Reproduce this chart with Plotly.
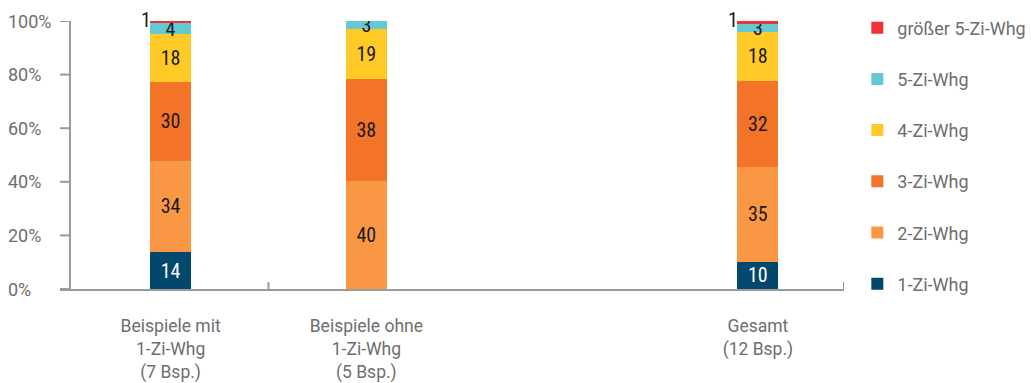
import plotly.graph_objects as go

categories = ["Beispiele mit<br>1-Zi-Whg<br>(7 Bsp.)", "Beispiele ohne<br>1-Zi-Whg<br>(5 Bsp.)", "Gesamt<br>(12 Bsp.)"]
cat_pos = [0, 1, 3]

series_names = ["1-Zi-Whg", "2-Zi-Whg", "3-Zi-Whg", "4-Zi-Whg", "5-Zi-Whg", "größer 5-Zi-Whg"]
zi1 = [13.8, 0.0, 10.1]
zi2 = [34.0, 40.3, 35.4]
zi3 = [29.6, 37.9, 32.3]
zi4 = [17.8, 18.9, 18.0]
zi5 = [3.9, 2.9, 3.2]
zi6 = [0.9, 0.0, 1.0]
series_values = [zi1, zi2, zi3, zi4, zi5, zi6]
colors = ["#02476C", "#F99744", "#F37329", "#FFC926", "#63C9D2", "#EE3338"]
text_colors = ["#ffffff", "#1a1a1a", "#1a1a1a", "#1a1a1a", "#1a1a1a", "#1a1a1a"]

y_ticks = [0, 20, 40, 60, 80, 100]
y_ticklabels = ["0%", "20%", "40%", "60%", "80%", "100%"]

NARROW = "Liberation Sans Narrow, Arial Narrow, Roboto Condensed, sans-serif"
FONT = "Roboto, Liberation Sans, sans-serif"
GRAY = "#6e6e6e"
AXIS = "#9b9b9b"

W, H = 1031, 383
ML, MR, MT, MB = 60, 187, 21, 94
plot_w = W - ML - MR
x_range = [-0.565, 3.44]

fig = go.Figure()
n = len(series_names)
for i, (name, vals) in enumerate(zip(series_names, series_values)):
    is_top = (i == n - 1)
    txt = ["" if (v == 0 or is_top) else f"{v:.0f}" for v in vals]
    fig.add_trace(go.Bar(
        x=cat_pos, y=vals, name=name, marker=dict(color=colors[i], line=dict(width=0)),
        width=0.21, text=txt, textposition="inside", insidetextanchor="middle",
        textangle=0, constraintext="none",
        textfont=dict(family=NARROW, size=20, color=text_colors[i]),
        legendgroup=name, legendrank=n - i, hoverinfo="skip",
    ))

# labels of the top (red) segment, placed left of the bar top
for j, xp in enumerate(cat_pos):
    v = zi6[j]
    if v > 0:
        total = sum(s[j] for s in series_values)
        fig.add_annotation(x=xp, y=total, text=f"{v:.0f}", showarrow=False,
                           xanchor="right", yanchor="middle", xshift=-18, yshift=1,
                           font=dict(family=NARROW, size=20, color="#1a1a1a"))

# y axis line + ticks + labels
px_to_paper = lambda px: (px - ML) / plot_w
yx = px_to_paper(70)
fig.add_shape(type="line", xref="paper", yref="y", x0=yx, x1=yx, y0=0, y1=100,
              line=dict(color=AXIS, width=2))
for t, lab in zip(y_ticks, y_ticklabels):
    fig.add_shape(type="line", xref="paper", yref="y", x0=0, x1=yx, y0=t, y1=t,
                  line=dict(color=AXIS, width=2))
    fig.add_annotation(xref="paper", yref="y", x=px_to_paper(6), y=t, text=lab,
                       showarrow=False, xanchor="left", yanchor="middle",
                       font=dict(family=FONT, size=18, color=GRAY))

# x axis small upward ticks
for xt in [0.5, x_range[1]]:
    fig.add_shape(type="line", xref="x", yref="y", x0=xt, x1=xt, y0=0, y1=2.6,
                  line=dict(color=AXIS, width=2))

fig.update_layout(
    template="none",
    width=W, height=H,
    barmode="stack",
    plot_bgcolor="white", paper_bgcolor="white",
    margin=dict(l=ML, r=MR, t=MT, b=MB, pad=0, autoexpand=False),
    font=dict(family=FONT, color=GRAY),
    showlegend=True,
    legend=dict(x=1.017, y=1.043, xanchor="left", yanchor="top",
                traceorder="grouped", tracegroupgap=24.8, maxheight=380,
                font=dict(family=FONT, size=18, color=GRAY),
                itemclick=False, itemdoubleclick=False, bgcolor="rgba(0,0,0,0)",
                borderwidth=0),
    xaxis=dict(range=x_range, tickmode="array", tickvals=cat_pos, ticktext=categories,
               ticks="", showline=True, linecolor=AXIS, linewidth=2, showgrid=False,
               zeroline=False, layer="below traces", ticklabelstandoff=20,
               automargin=False,
               tickfont=dict(family=FONT, size=17.5, color=GRAY), fixedrange=True),
    yaxis=dict(range=[0, 100], showticklabels=False, ticks="", showgrid=False,
               zeroline=False, showline=False, fixedrange=True, automargin=False),
)

fig.write_html("out.html", include_plotlyjs=True, config={"displayModeBar": False})
